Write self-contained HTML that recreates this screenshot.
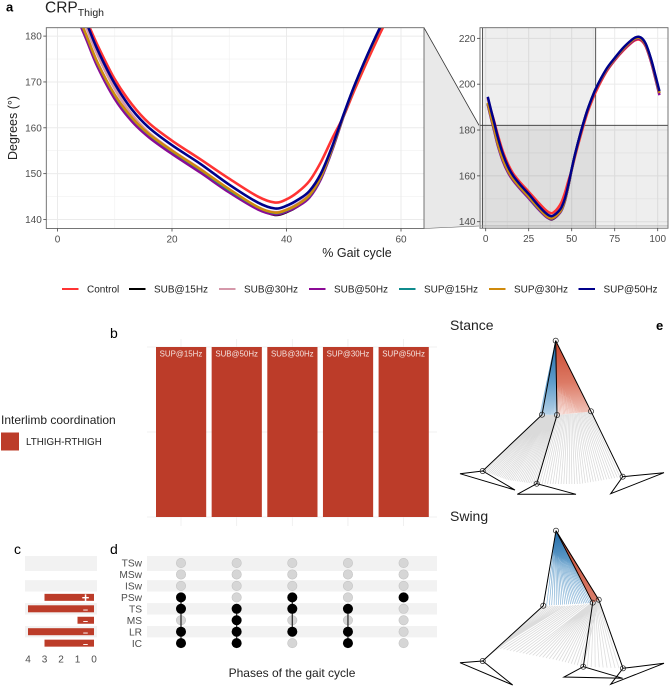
<!DOCTYPE html>
<html lang="en">
<head>
<meta charset="utf-8">
<title>CRP Thigh</title>
<style>
html,body{margin:0;padding:0;background:#fff;width:669px;height:687px;overflow:hidden}
svg{display:block}
text{font-family:"Liberation Sans",sans-serif}
</style>
</head>
<body>
<svg id="fig" xmlns="http://www.w3.org/2000/svg" width="669" height="687" viewBox="0 0 669 687">
<defs>
<clipPath id="mainClip"><rect x="46.3" y="27.7" width="377.7" height="200.8"/></clipPath>
<clipPath id="insetClip"><rect x="480" y="27.7" width="188" height="200.5"/></clipPath>
<linearGradient id="blueStance" gradientUnits="userSpaceOnUse" x1="0" y1="341" x2="0" y2="416"><stop offset="0" stop-color="#1f6aa8"/><stop offset="0.55" stop-color="#5f9dcb"/><stop offset="1" stop-color="#b9d3e8"/></linearGradient>
<linearGradient id="redStance" gradientUnits="userSpaceOnUse" x1="0" y1="341" x2="0" y2="416"><stop offset="0" stop-color="#c8452c"/><stop offset="0.55" stop-color="#dc7a65"/><stop offset="1" stop-color="#f2c9c0"/></linearGradient>
<linearGradient id="blueSwing" gradientUnits="userSpaceOnUse" x1="0" y1="531" x2="0" y2="607"><stop offset="0" stop-color="#1f6aa8"/><stop offset="0.45" stop-color="#6ba3cd"/><stop offset="1" stop-color="#8fb9da"/></linearGradient>
<linearGradient id="redSwing" gradientUnits="userSpaceOnUse" x1="0" y1="531" x2="0" y2="604"><stop offset="0" stop-color="#c8452c"/><stop offset="1" stop-color="#d9806e"/></linearGradient>
</defs>

<text x="6" y="11.5" font-size="13" font-weight="bold">a</text>
<text x="45" y="12.5" font-size="15.5" fill="#222">CRP<tspan dy="3.5" font-size="10.5">Thigh</tspan></text>
<text x="110" y="338" font-size="14">b</text>
<text x="14" y="554" font-size="14">c</text>
<text x="110" y="554" font-size="14">d</text>
<text x="656" y="330" font-size="13" font-weight="bold">e</text>
<text x="450" y="330" font-size="14" fill="#222">Stance</text>
<text x="450" y="521" font-size="14" fill="#222">Swing</text>

<polygon points="424,27.7 479,125.3 479,226 424,228.5" fill="#e9e9e9" stroke="none"/>
<line x1="424" y1="27.7" x2="479" y2="125.3" stroke="#333" stroke-width="0.8"/>
<line x1="424" y1="228.5" x2="479" y2="226" stroke="#555" stroke-width="0.6"/>

<g id="mainGrid"></g>
<g id="mainLines" clip-path="url(#mainClip)"></g>
<rect x="46.3" y="27.7" width="377.7" height="200.8" fill="none" stroke="#666" stroke-width="0.9"/>
<g id="mainAxes"></g>
<text x="357" y="257" font-size="12.5" text-anchor="middle" fill="#222">% Gait cycle</text>
<text transform="translate(17,128) rotate(-90)" font-size="12.5" text-anchor="middle" fill="#222">Degrees (°)</text>

<g id="insetGrid" clip-path="url(#insetClip)"></g>
<g clip-path="url(#insetClip)">
<rect x="482.4" y="27.7" width="113.3" height="200.5" fill="#000" opacity="0.065"/>
<rect x="480" y="125.3" width="188" height="100.7" fill="#000" opacity="0.065"/>
<line x1="482.4" y1="27.7" x2="482.4" y2="228" stroke="#333" stroke-width="0.8"/>
<line x1="595.7" y1="27.7" x2="595.7" y2="125.3" stroke="#333" stroke-width="0.8"/>
<line x1="595.7" y1="125.3" x2="595.7" y2="228" stroke="#777" stroke-width="0.8"/>
<line x1="480" y1="125.3" x2="668" y2="125.3" stroke="#333" stroke-width="0.8"/>
<line x1="480" y1="226" x2="668" y2="226" stroke="#999" stroke-width="0.8"/>
</g>
<g id="insetLines" clip-path="url(#insetClip)"></g>
<rect x="480" y="27.7" width="188" height="200.5" fill="none" stroke="#666" stroke-width="0.9"/>
<g id="insetAxes"></g>

<g id="legendA"></g>

<g id="panelB"></g>
<text x="1" y="424" font-size="12" fill="#222">Interlimb coordination</text>
<rect x="1" y="432.5" width="18" height="18" fill="#bc3c29"/>
<text x="26" y="445" font-size="9.8" fill="#222">LTHIGH-RTHIGH</text>

<g id="panelC"></g>
<g id="panelD"></g>
<text x="292" y="677" font-size="12" text-anchor="middle" fill="#222">Phases of the gait cycle</text>

<g id="panelE"></g>
</svg>
<script>
// ---------- chart data ----------
const gaitPercent = [1.2,3,5,7,10,13,16,20,25,30,35,38,40,42,44,46,48,50,52,55,58,60,64,70,75,80,85,87,89,91,93,95,97,101];
const control = [194,188.8,183.6,178,170.6,165.1,161,157.2,153.1,148.9,145,143.7,144.4,146,148.4,152.5,157.7,162.6,168.6,177,184.8,189.3,196.6,205.2,210.4,214.7,218.2,219.2,219.5,218.7,216.5,212.5,207.5,196];
const sub15 = [191.4,185.7,179.8,173.7,166.7,161.8,158.2,154.6,150.5,146.2,142.4,141,141.6,142.9,145,149,155.4,162.7,169.5,178.2,186,190.4,197.9,206.2,211.2,215.6,219.1,220.1,220.4,219.6,217.4,213.3,208.2,196];
const sub30 = [193.4,187.9,182,175.9,168.5,162.9,158.9,155.1,151,146.5,142.6,141.6,142.2,143.5,145.5,149.3,155.5,162.8,169.5,178.2,186,190.4,197.8,206.1,211.1,215.6,219.1,220.1,220.4,219.6,217.4,213.3,208.3,196];
const sub50 = [191,185.3,179.4,173.3,166.3,161.4,157.9,154.3,150.2,145.9,142.2,141.1,141.7,142.9,144.8,148.8,155.2,162.6,169.4,178.1,185.8,190.2,197.6,205.6,210.6,215,218.5,219.5,219.8,219,216.8,212.6,207.4,195.2];
const sup15 = [191.8,186.1,180.2,174.1,167.1,162.1,158.5,154.9,150.8,146.4,142.7,141.4,142,143.3,145.2,149.2,155.5,162.8,169.5,178.2,186,190.5,198,206.3,211.3,215.8,219.3,220.3,220.6,219.8,217.6,213.5,208.4,196.3];
const sup30 = [191.9,186.2,180.3,174.2,167.2,162.2,158.6,155,150.9,146.6,142.7,141.5,142.1,143.3,145.3,149.3,155.6,162.8,169.4,178.1,185.9,190.3,197.8,206,211,215.4,218.9,219.9,220.2,219.4,217.2,213.2,208.2,196.2];
const sup50 = [194.5,189,183.1,177,169.6,164,160,156.2,152.1,147.6,143.7,142.4,143,144.3,146.2,150,156,163,169.6,178.3,186,190.5,198,206.4,211.4,215.9,219.4,220.4,220.7,219.9,217.7,213.7,208.7,197];
const seriesNames = ["Control","SUB@15Hz","SUB@30Hz","SUB@50Hz","SUP@15Hz","SUP@30Hz","SUP@50Hz"];
const seriesValues = [control,sub15,sub30,sub50,sup15,sup30,sup50];
const seriesColors = ["#ff3333","#000000","#d598aa","#8b0a96","#0f8b8d","#cf8a0c","#00008b"];
const mainXTicks = [0,20,40,60];
const mainYTicks = [140,150,160,170,180];
const insetXTicks = [0,25,50,75,100];
const insetYTicks = [140,160,180,200,220];
const barLabels = ["SUP@15Hz","SUB@50Hz","SUB@30Hz","SUP@30Hz","SUP@50Hz"];
const barValues = [1,1,1,1,1];
const phases = ["TSw","MSw","ISw","PSw","TS","MS","LR","IC"];
const phaseCounts = [0,0,0,3,4,1,4,3];
const phaseSigns = ["","","","+","–","–","–","–"];
const countTicks = [4,3,2,1,0];
const comboSets = [["PSw","TS","LR","IC"],["TS","MS","LR","IC"],["PSw","TS","LR"],["TS","LR","IC"],["PSw"]];

// ---------- helpers ----------
const NS = "http://www.w3.org/2000/svg";
function mk(parent, tag, attrs, txt){
  const el = document.createElementNS(NS, tag);
  for (const k in attrs) el.setAttribute(k, attrs[k]);
  if (txt !== undefined) el.textContent = txt;
  parent.appendChild(el);
  return el;
}
function $(id){ return document.getElementById(id); }
function smoothPath(pts){
  let d = "M" + pts[0][0].toFixed(2) + " " + pts[0][1].toFixed(2);
  for (let i = 0; i < pts.length - 1; i++){
    const p0 = pts[Math.max(i-1,0)], p1 = pts[i], p2 = pts[i+1], p3 = pts[Math.min(i+2,pts.length-1)];
    const c1x = p1[0] + (p2[0]-p0[0])/6, c1y = p1[1] + (p2[1]-p0[1])/6;
    const c2x = p2[0] - (p3[0]-p1[0])/6, c2y = p2[1] - (p3[1]-p1[1])/6;
    d += "C" + c1x.toFixed(2) + " " + c1y.toFixed(2) + " " + c2x.toFixed(2) + " " + c2y.toFixed(2) + " " + p2[0].toFixed(2) + " " + p2[1].toFixed(2);
  }
  return d;
}

// ---------- axis functions ----------
const mainX = v => 57.5 + v * 5.725;
const mainY = v => 219.5 - (v - 140) * 4.585;
const insetX = v => 485.7 + v * 1.72;
const insetY = v => 221.7 - (v - 140) * 2.292;

function drawPanel(gridG, axesG, lineG, sx, sy, xTicks, yTicks, xMinor, yMinor, box, lw, prefix){
  xMinor.forEach(v => {
    const l = mk(gridG, "line", {x1:sx(v),x2:sx(v),y1:box.t,y2:box.b,stroke:"#f0f0f0","stroke-width":0.6});
    
    
  });
  yMinor.forEach(v => {
    const l = mk(gridG, "line", {x1:box.l,x2:box.r,y1:sy(v),y2:sy(v),stroke:"#f0f0f0","stroke-width":0.6});
    
    
  });
  xTicks.forEach(v => {
    const g = mk(gridG, "line", {x1:sx(v),x2:sx(v),y1:box.t,y2:box.b,stroke:"#ebebeb","stroke-width":1});
    
    
    const t = mk(axesG, "line", {x1:sx(v),x2:sx(v),y1:box.b,y2:box.b+3,stroke:"#444","stroke-width":0.8});
    
    
    const s = mk(axesG, "text", {x:sx(v),y:box.b+14,"font-size":10,"text-anchor":"middle",fill:"#4d4d4d"}, v);
    
    
  });
  yTicks.forEach(v => {
    const g = mk(gridG, "line", {x1:box.l,x2:box.r,y1:sy(v),y2:sy(v),stroke:"#ebebeb","stroke-width":1});
    
    
    const t = mk(axesG, "line", {x1:box.l-3,x2:box.l,y1:sy(v),y2:sy(v),stroke:"#444","stroke-width":0.8});
    
    
    const s = mk(axesG, "text", {x:box.l-4.5,y:sy(v)+3.5,"font-size":10,"text-anchor":"end",fill:"#4d4d4d"}, v);
    
    
  });
  seriesValues.forEach((vals, i) => {
    const pts = vals.map((v, j) => [sx(gaitPercent[j]), sy(v)]);
    const p = mk(lineG, "path", {d:smoothPath(pts),fill:"none",stroke:seriesColors[i],"stroke-width":lw,"stroke-linejoin":"round"});
    
    
  });
}
drawPanel($("mainGrid"),$("mainAxes"),$("mainLines"),mainX,mainY,mainXTicks,mainYTicks,[10,30,50],[145,155,165,175],{l:46.3,r:424,t:27.7,b:228.5},2.6,"main");
drawPanel($("insetGrid"),$("insetAxes"),$("insetLines"),insetX,insetY,insetXTicks,insetYTicks,[12.5,37.5,62.5,87.5],[150,170,190,210],{l:480,r:668,t:27.7,b:228.2},2.5,"inset");

// ---------- legend ----------
const legendKeyX = [62,129,219,309,399,489,578.5];
seriesNames.forEach((n, i) => {
  const l = mk($("legendA"), "line", {x1:legendKeyX[i],x2:legendKeyX[i]+16.5,y1:289,y2:289,stroke:seriesColors[i],"stroke-width":2});
  
  
  const t = mk($("legendA"), "text", {x:legendKeyX[i]+25,y:292.6,"font-size":10,fill:"#222"}, n);
  
  
});

// ---------- panel b ----------
const bx = i => 181 + i * 55.65;
const by = v => 517 - v * 170;
[0,0.5,1].forEach(v => {
  const l = mk($("panelB"), "line", {x1:147,x2:437,y1:by(v),y2:by(v),stroke:"#ededed","stroke-width":0.8});
  
  
});
barLabels.forEach((n, i) => {
  const g = mk($("panelB"), "line", {x1:bx(i),x2:bx(i),y1:339,y2:526,stroke:"#ededed","stroke-width":0.8});
  
  
  const r = mk($("panelB"), "rect", {x:bx(i)-25,y:by(barValues[i]),width:50.2,height:517-by(barValues[i]),fill:"#bc3c29"});
  
  
  const t = mk($("panelB"), "text", {x:bx(i),y:by(barValues[i])+9.5,"font-size":7.9,"text-anchor":"middle",fill:"#f4e3df"}, n);
  
  
});

// ---------- panels c & d ----------
const rowY = i => 563 + i * 11.45;
const cx = v => 94 - v * 16.5;
const dotX = i => 181 + i * 55.65;
phases.forEach((p, i) => {
  if (i % 2 === 0){
    const h = i === 0 ? 15 : 11.4;
    const top = i === 0 ? 556 : rowY(i) - 5.7;
    const a = mk($("panelC"), "rect", {x:25,y:top,width:72,height:h,fill:"#f2f2f2"});
    
    
    const b = mk($("panelD"), "rect", {x:147,y:top,width:290,height:h,fill:"#f2f2f2"});
    
    
  }
  const t = mk($("panelD"), "text", {x:142,y:rowY(i)+3.6,"font-size":10.2,"text-anchor":"end",fill:"#4d4d4d"}, p);
  
  
});
phaseCounts.forEach((v, i) => {
  if (v <= 0) return;
  const r = mk($("panelC"), "rect", {x:cx(v),y:rowY(i)-3.5,width:cx(0)-cx(v),height:7,fill:"#bc3c29"});
  
  
  const s = mk($("panelC"), "text", {x:85.5,y:rowY(i)+(phaseSigns[i]==="+"?4.5:3.6),"font-size":phaseSigns[i]==="+"?13:9,"font-weight":"bold","text-anchor":"middle",fill:"#fff"}, phaseSigns[i]);
  
  
});
countTicks.forEach(v => {
  const t = mk($("panelC"), "text", {x:cx(v),y:662.5,"font-size":10,"text-anchor":"middle",fill:"#4d4d4d"}, v);
  
  
});
comboSets.forEach((set, c) => {
  phases.forEach((p, i) => {
    const d = mk($("panelD"), "circle", {cx:dotX(c),cy:rowY(i),r:4.7,fill:"#d6d6d6",stroke:"#c4c4c4","stroke-width":0.6});
    
    
  });
  const idx = set.map(p => phases.indexOf(p));
  if (idx.length > 1){
    const l = mk($("panelD"), "line", {x1:dotX(c),x2:dotX(c),y1:rowY(Math.min(...idx)),y2:rowY(Math.max(...idx)),stroke:"#333","stroke-width":1.3});
    
    
  }
  idx.forEach(i => {
    const d = mk($("panelD"), "circle", {cx:dotX(c),cy:rowY(i),r:5,fill:"#000"});
    
    
  });
});

// ---------- panel e: stick figures (illustration, keyframed poses) ----------
const E = $("panelE");
function lerpPath(path, t){
  const n = path.length - 1;
  if (n < 1) return path[0];
  const f = Math.min(t * n, n - 1e-6), i = Math.floor(f), u = f - i;
  return [path[i][0] + (path[i+1][0]-path[i][0])*u, path[i][1] + (path[i+1][1]-path[i][1])*u];
}
function fan(name, a, b, n, stroke, w, power){
  let d = "";
  for (let i = 0; i <= n; i++){
    const t = Math.pow(i / n, power);
    const p = lerpPath(a, t), q = lerpPath(b, t);
    d += "M" + p[0].toFixed(1) + " " + p[1].toFixed(1) + "L" + q[0].toFixed(1) + " " + q[1].toFixed(1);
  }
  const el = mk(E, "path", {d:d,fill:"none",stroke:stroke,"stroke-width":w});
  
  
}
function figure(prefix, hip, legs, feet){
  legs.forEach((leg, i) => {
    const l = mk(E, "polyline", {points:[hip,leg[0],leg[1]].map(p=>p.join(",")).join(" "),fill:"none",stroke:"#000","stroke-width":1});
    
    
    const f = mk(E, "polygon", {points:[leg[1],feet[i][0],feet[i][1]].map(p=>p.join(",")).join(" "),fill:"none",stroke:"#000","stroke-width":1});
    
    
  });
  [hip].concat(...legs).forEach(p => {
    const c = mk(E, "circle", {cx:p[0],cy:p[1],r:2.6,fill:"none",stroke:"#222","stroke-width":0.7});
    
    
  });
}
// stance
const sHip = [555.7,340.7];
const sA = [[482.7,471],[508,480],[536.7,484],[580,484],[622.7,476.7]];
fan("stance-shank-fan",[[542,415],[549,415],[557,415],[574,413.5],[591,411.5]],sA,64,"#dadada",0.75,1);
fan("stance-thigh-fan-blue",[sHip],[[540,414.5],[557,415]],26,"url(#blueStance)",0.8,1.5);
fan("stance-thigh-fan-red",[sHip],[[591,411.5],[557,415]],42,"url(#redStance)",0.8,1.7);
figure("stance",sHip,[[[542,414.7],[482.7,471]],[[557,415],[536.7,483.7]],[[591,411.3],[622.7,476.7]]],
  [[[460,473.7],[515,490]],[[517.3,494.3],[576,494.3]],[[664,472.7],[610.7,493.7]]]);
// swing
const wHip = [556,530.7];
fan("swing-shank-fan",[[543.3,605.7],[565,606],[590,604],[592.7,602.7],[598.7,599.7]],
  [[484,660],[497,648],[526,654],[556,660],[583.3,666.7]],36,"#dcdcdc",0.85,1);
fan("swing-shank-fan-end",[[592.7,602.7],[598.7,599.7]],[[583.3,666.7],[623,668.3]],10,"#dedede",0.8,1);
fan("swing-thigh-fan-blue",[wHip],[[543.3,605.7],[592.7,603]],24,"url(#blueSwing)",0.7,0.85);
fan("swing-thigh-fan-red",[wHip],[[592.7,602.7],[598.7,599.7]],14,"url(#redSwing)",0.9,1);
figure("swing",wHip,[[[543.3,605.7],[482.7,661]],[[592.7,602.7],[583.3,666.7]],[[598.7,599.7],[623,668.3]]],
  [[[460,662.7],[512.7,685]],[[564,677],[622.7,678.3]],[[664,663.3],[610.7,684.3]]]);
</script>
</body>
</html>
